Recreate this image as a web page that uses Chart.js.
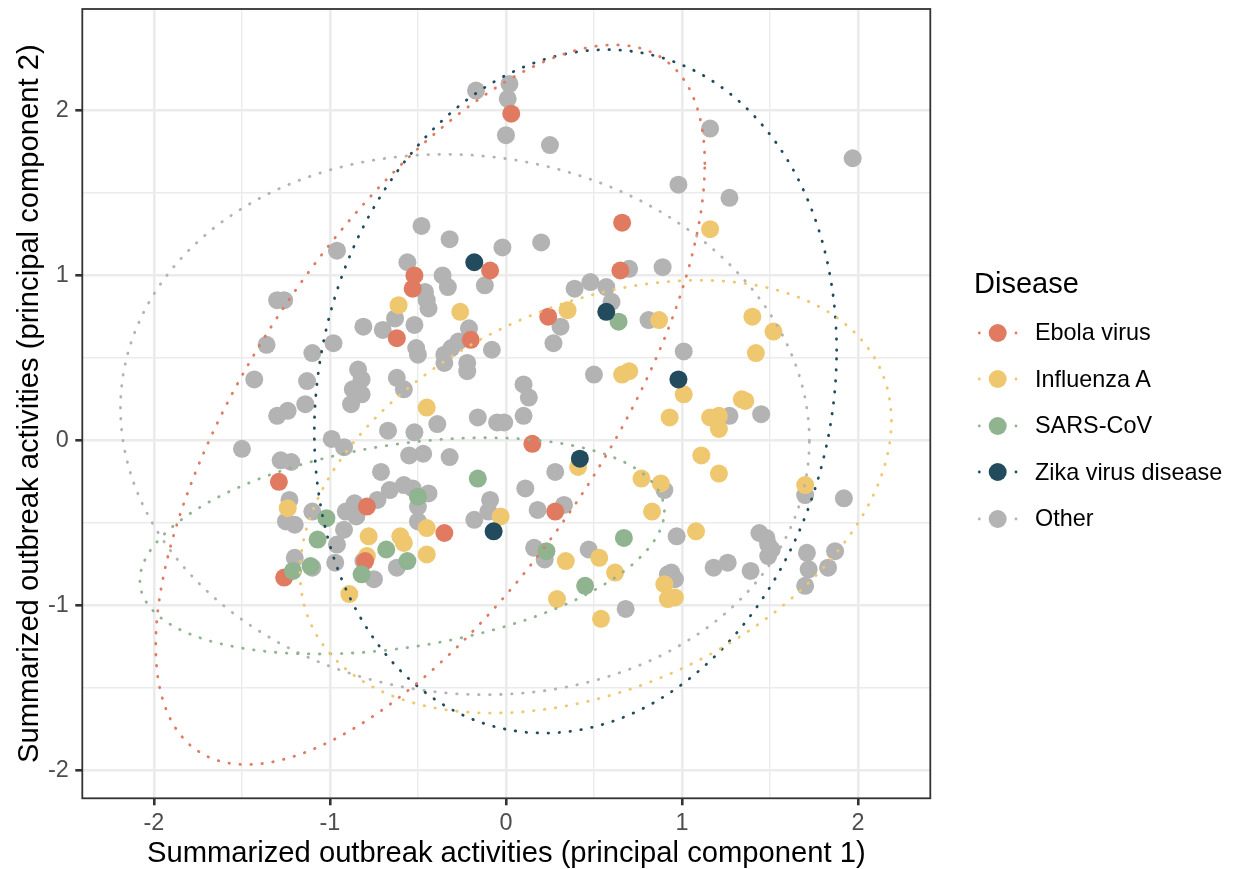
<!DOCTYPE html>
<html lang="en">
<head>
  <meta charset="UTF-8">
  <title>Outbreak activities by disease</title>
  <script src="https://cdn.jsdelivr.net/npm/chart.js"></script>
  <style>
    body {
      margin: 0;
      background: #fff;
      font-family: "Liberation Sans", Arial, sans-serif;
    }

    .wrap {
      position: relative;
      width: 1233px;
      height: 869px;
    }

    #pcaChart {
      position: absolute;
      left: 0;
      top: 0;
    }

    .legend-title {
      position: absolute;
      left: 974px;
      top: 266px;
      font-size: 29px;
      line-height: 34px;
      color: #000;
    }

    .legend-item {
      position: absolute;
      left: 976px;
      height: 30px;
      display: flex;
      align-items: center;
      font-size: 23.4px;
      color: #000;
    }

    .legend-item svg {
      width: 44px;
      height: 30px;
      margin-right: 15px;
    }
  </style>
</head>
<body>
  <div class="wrap">
    <canvas id="pcaChart" width="1233" height="869"></canvas>
    <div class="legend-title">Disease</div>
    <div id="legend"></div>
  </div>

  <script>
    // categories and colours
    const diseases = ['Ebola virus', 'Influenza A', 'SARS-CoV', 'Zika virus disease', 'Other'];
    const colors = ['#E07B62', '#EFC76F', '#8FB48F', '#224B5E', '#B3B3B3'];

    // axis ticks
    const xTicks = [-2, -1, 0, 1, 2];
    const yTicks = [-2, -1, 0, 1, 2];

    // points
    const ebolaX = [0.03, 0.66, -0.09, -0.52, 0.65, -0.53, -0.62, -0.20, 0.24, -1.29, -0.79, 0.15, 0.28, -0.35, -1.26, -0.80];
    const ebolaY = [1.98, 1.32, 1.03, 1.00, 1.03, 0.92, 0.62, 0.61, 0.75, -0.25, -0.40, -0.02, -0.43, -0.56, -0.83, -0.73];

    const fluX = [1.16, -0.61, -0.26, 0.35, 0.66, 0.70, 0.87, 1.01, 0.93, 1.40, 1.52, 1.42, 1.34, 1.36, 1.16, 1.21, 1.21, 1.11, 1.21,
      -0.45, 0.41, 0.77, 0.88, 0.83, 1.70, 1.08, -0.03, -0.45, -0.60, -0.78, -1.24, -0.79, -0.89, -0.58, -0.45, 0.34, 0.53, 0.62,
      0.29, 0.54, 0.90, 0.92, 0.96];
    const fluY = [1.28, 0.82, 0.78, 0.79, 0.40, 0.42, 0.73, 0.28, 0.14, 0.75, 0.66, 0.53, 0.25, 0.24, 0.14, 0.15, 0.07, -0.09, -0.20,
      0.20, -0.16, -0.23, -0.26, -0.43, -0.27, -0.55, -0.46, -0.53, -0.58, -0.58, -0.41, -0.70, -0.93, -0.62, -0.69, -0.73, -0.71, -0.80,
      -0.96, -1.08, -0.87, -0.96, -0.95];

    const sarsX = [0.64, -0.16, -0.50, -1.02, -1.07, 0.67, -0.68, -0.56, -0.82, -1.21, -1.11, 0.23, 0.45];
    const sarsY = [0.72, -0.23, -0.34, -0.47, -0.60, -0.59, -0.66, -0.73, -0.81, -0.79, -0.76, -0.67, -0.88];

    const zikaX = [-0.18, 0.57, 0.98, 0.42, -0.07];
    const zikaY = [1.08, 0.78, 0.37, -0.11, -0.55];

    const otherX = [-0.96, -0.17, 0.02, 0.01, 0.00, 0.25, -0.48, -0.32, -0.02, 0.20, -0.56, -0.36, 0.70, 0.48, 1.16, 1.97, 0.98, 1.27,
      0.89, -1.30, -1.26, -1.36, -1.43, -0.81, -0.98, -1.10, -1.13, -0.84, -0.82, -0.87, -0.82, -0.88, -1.14, -1.24, -1.30, -1.50,
      -0.99, -0.92, -1.28, -1.22, -1.23, -1.10, -1.25, -1.20, -0.86, -0.91, -0.85, -0.92, -0.33, -0.12, -0.46, -0.45, -0.44, -0.63,
      -0.70, -0.52, -0.21, -0.27, -0.31, -0.35, -0.35, -0.51, -0.50, -0.08, -0.22, -0.22, -0.62, -0.58, 0.10, 0.13, 0.50, 0.39,
      0.57, 0.60, 0.31, 0.27, 0.81, -0.39, -0.67, -0.52, -0.16, -0.05, -0.01, 0.10, 0.28, -0.55, -0.47, -0.32, -0.71, 0.11, -0.66,
      -0.58, -0.53, -0.44, -0.73, -0.50, -0.09, -0.10, -0.18, 0.18, 0.33, -0.50, 1.01, 1.45, 1.27, 0.90, 1.70, 1.92, 0.97, 1.44,
      1.48, -1.20, -1.10, -0.96, -0.97, -0.81, -0.75, -0.62, 0.16, 0.22, 0.47, 0.68, 0.92, 0.96, 0.94, 1.18, 1.26, 1.39, 1.49,
      1.49, 1.51, 1.71, 1.72, 1.70, 1.83, 1.87];
    const otherY = [1.15, 2.12, 2.16, 2.07, 1.85, 1.79, 1.30, 1.22, 1.17, 1.20, 1.08, 1.00, 1.04, 0.96, 1.89, 1.71, 1.55, 1.47,
      1.05, 0.85, 0.85, 0.58, 0.37, 0.69, 0.59, 0.53, 0.36, 0.43, 0.37, 0.31, 0.28, 0.22, 0.22, 0.18, 0.15, -0.05,
      0.01, -0.04, -0.12, -0.13, -0.36, -0.43, -0.49, -0.51, -0.38, -0.43, -0.46, -0.54, 0.93, 0.94, 0.90, 0.85, 0.80, 0.74,
      0.67, 0.70, 0.68, 0.60, 0.56, 0.52, 0.47, 0.56, 0.52, 0.55, 0.47, 0.42, 0.38, 0.31, 0.34, 0.26, 0.40, 0.92,
      0.93, 0.84, 0.69, 0.59, 0.73, 0.10, 0.06, 0.05, 0.14, 0.11, 0.11, 0.15, -0.19, -0.09, -0.08, -0.10, -0.19, -0.29, -0.30,
      -0.27, -0.29, -0.32, -0.36, -0.40, -0.36, -0.43, -0.48, -0.42, -0.39, -0.49, 0.54, 0.16, 0.15, -0.30, -0.33, -0.35, -0.58, -0.56,
      -0.59, -0.71, -0.77, -0.63, -0.74, -0.73, -0.84, -0.77, -0.65, -0.72, -0.66, -1.02, -0.81, -0.84, -0.80, -0.77, -0.74, -0.79, -0.63,
      -0.70, -0.66, -0.68, -0.78, -0.88, -0.77, -0.67];

    // confidence ellipses: centre, half extents along x and y, correlation
    const ellipseCx = [-0.43, 0.51, -0.59, 0.395, -0.233];
    const ellipseCy = [0.217, -0.34, -0.638, 0.298, 0.097];
    const ellipseSx = [1.56, 1.68, 1.49, 1.484, 1.957];
    const ellipseSy = [2.18, 1.311, 0.655, 2.07, 1.637];
    const ellipseRho = [0.67, 0.35, 0.32, 0.12, -0.06];

    const pointSets = [
      [ebolaX, ebolaY], [fluX, fluY], [sarsX, sarsY], [zikaX, zikaY], [otherX, otherY]
    ];

    function toPoints(xs, ys) {
      return xs.map((x, i) => ({ x: x, y: ys[i] }));
    }

    function ellipse(i) {
      const pts = [];
      const s = Math.sqrt(1 - ellipseRho[i] * ellipseRho[i]);
      for (let k = 0; k <= 150; k++) {
        const t = k / 150 * 2 * Math.PI;
        pts.push({
          x: ellipseCx[i] + ellipseSx[i] * Math.cos(t),
          y: ellipseCy[i] + ellipseSy[i] * (ellipseRho[i] * Math.cos(t) + s * Math.sin(t))
        });
      }
      return pts;
    }

    const datasets = [];
    // ellipses drawn above the points (first dataset ends up on top)
    diseases.forEach((d, i) => {
      datasets.push({
        label: d + ' ellipse',
        data: ellipse(i),
        showLine: true,
        borderColor: colors[i],
        borderWidth: 2.8,
        borderDash: [0.5, 10.5],
        borderCapStyle: 'round',
        pointRadius: 0,
        pointHoverRadius: 0,
        tension: 0,
        fill: false
      });
    });
    // points: coloured groups above "Other"
    [3, 2, 0, 1, 4].forEach(i => {
      datasets.push({
        label: diseases[i],
        data: toPoints(pointSets[i][0], pointSets[i][1]),
        backgroundColor: colors[i],
        borderWidth: 0,
        pointRadius: 9,
        pointHoverRadius: 9
      });
    });

    const minorOf = ticks => {
      const out = [];
      for (let i = 0; i < ticks.length; i++) {
        out.push(ticks[i]);
        if (i < ticks.length - 1) out.push((ticks[i] + ticks[i + 1]) / 2);
      }
      return out;
    };
    const isMajor = v => Math.abs(v - Math.round(v)) < 1e-9;

    const panelBorder = {
      id: 'panelBorder',
      afterDraw(chart) {
        const { ctx, chartArea: a } = chart;
        ctx.save();
        ctx.strokeStyle = '#333333';
        ctx.lineWidth = 1.8;
        ctx.strokeRect(a.left, a.top, a.right - a.left, a.bottom - a.top);
        ctx.restore();
      }
    };

    const tickFont = { family: '"Liberation Sans", Arial, sans-serif', size: 23.4 };
    const titleFont = { family: '"Liberation Sans", Arial, sans-serif', size: 29.2, lineHeight: 1 };

    const gridOpts = {
      color: '#EBEBEB',
      lineWidth: ctx => (ctx.tick && isMajor(ctx.tick.value)) ? 2.6 : 1.4,
      tickColor: ctx => (ctx.tick && isMajor(ctx.tick.value)) ? '#333333' : 'rgba(0,0,0,0)',
      tickWidth: 2.6,
      tickLength: 7,
      drawTicks: true
    };

    new Chart(document.getElementById('pcaChart'), {
      type: 'scatter',
      data: { datasets: datasets },
      plugins: [panelBorder],
      options: {
        responsive: false,
        animation: false,
        events: [],
        layout: { padding: { left: 0, right: 302.7, top: 9, bottom: 0 } },
        plugins: {
          legend: { display: false },
          tooltip: { enabled: false }
        },
        scales: {
          x: {
            type: 'linear',
            position: 'bottom',
            min: -2.407,
            max: 2.411,
            afterBuildTicks: scale => { scale.ticks = minorOf(xTicks).map(v => ({ value: v })); },
            afterFit: scale => {
              scale.height = 70.7;
              scale.paddingLeft = 0;
              scale.paddingRight = 0;
            },
            border: { display: false },
            grid: gridOpts,
            ticks: {
              autoSkip: false,
              maxRotation: 0,
              padding: 4,
              color: '#4D4D4D',
              font: tickFont,
              callback: v => isMajor(v) ? String(v) : ''
            },
            title: {
              display: true,
              text: 'Summarized outbreak activities (principal component 1)',
              color: '#000',
              font: titleFont,
              padding: { top: 0, bottom: 0.4 }
            }
          },
          y: {
            type: 'linear',
            position: 'left',
            min: -2.167,
            max: 2.614,
            afterBuildTicks: scale => { scale.ticks = minorOf(yTicks).map(v => ({ value: v })); },
            afterFit: scale => {
              scale.width = 82.3;
              scale.paddingTop = 0;
              scale.paddingBottom = 0;
            },
            border: { display: false },
            grid: gridOpts,
            ticks: {
              autoSkip: false,
              padding: 6.5,
              color: '#4D4D4D',
              font: tickFont,
              callback: v => isMajor(v) ? String(v) : ''
            },
            title: {
              display: true,
              text: 'Summarized outbreak activities (principal component 2)',
              color: '#000',
              font: titleFont,
              padding: { top: 15.4, bottom: 0 }
            }
          }
        }
      }
    });

    // legend: dotted line key with a point on top, like the plot's guide
    const legend = document.getElementById('legend');
    diseases.forEach((d, i) => {
      const row = document.createElement('div');
      row.className = 'legend-item';
      row.style.top = (332.5 + i * 46.5 - 15) + 'px';
      row.innerHTML =
        '<svg viewBox="0 0 44 30">' +
        '<circle cx="3.3" cy="15" r="1.4" fill="' + colors[i] + '"></circle>' +
        '<circle cx="40" cy="15" r="1.4" fill="' + colors[i] + '"></circle>' +
        '<circle cx="21.7" cy="15" r="9" fill="' + colors[i] + '"></circle>' +
        '</svg><span>' + d + '</span>';
      legend.appendChild(row);
    });
  </script>
</body>
</html>
